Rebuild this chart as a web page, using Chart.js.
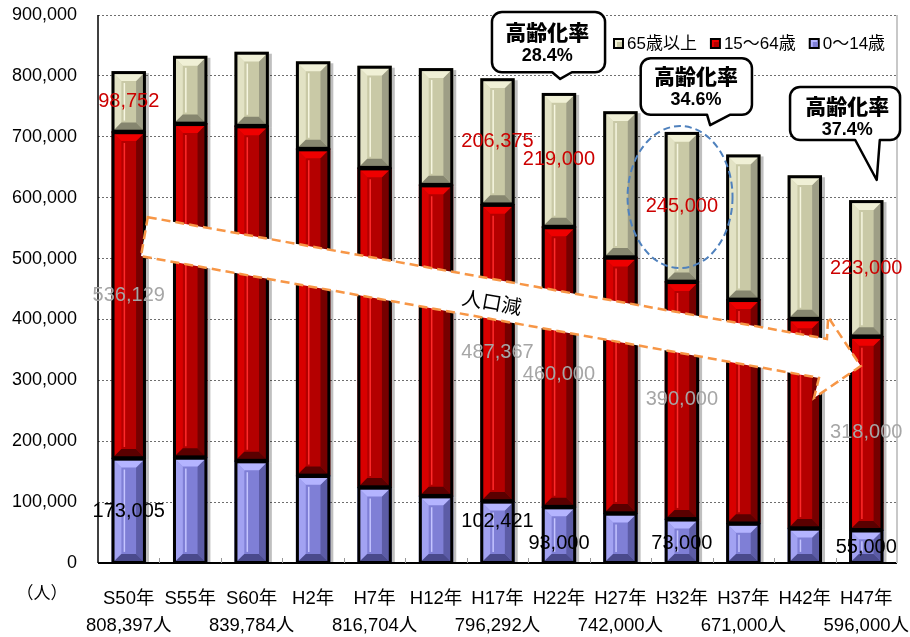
<!DOCTYPE html>
<html lang="ja">
<head>
  <meta charset="UTF-8" />
  <title>人口の推移</title>
  <script src="https://cdn.jsdelivr.net/npm/chart.js"></script>
  <style>
    body { margin: 0; background: #ffffff; }
    #wrap { width: 910px; height: 637px; }
  </style>
</head>
<body>
  <div id="wrap"><canvas id="popChart" width="910" height="637"></canvas></div>

  <script>
    const FONT = '"Liberation Sans", "Noto Sans CJK JP", sans-serif';
    const JP = '"Noto Sans CJK JP", "Liberation Sans", sans-serif';

    // --- data ---
    const categories = ['S50年', 'S55年', 'S60年', 'H2年', 'H7年', 'H12年', 'H17年',
                        'H22年', 'H27年', 'H32年', 'H37年', 'H42年', 'H47年'];
    const totalPop = [808397, null, 839784, null, 816704, null, 796292,
                      null, 742000, null, 671000, null, 596000];
    const age0to14 = [173005, 174500, 168600, 144500, 125300, 111000, 102421,
                      93000, 82600, 73000, 66000, 58000, 55000];
    const age15to64 = [536129, 548000, 550100, 536500, 524400, 510800, 487367,
                       460000, 420400, 390000, 367500, 343800, 318000];
    const age65plus = [98752, 110500, 121000, 143000, 167000, 191000, 206375,
                       219000, 239000, 245000, 237500, 235000, 223000];
    const seriesNames = ['0～14歳', '15～64歳', '65歳以上'];
    const yTicks = [0, 100000, 200000, 300000, 400000, 500000, 600000, 700000, 800000, 900000];

    // categories that carry value labels, and the aging rate callouts
    const labelCats = [0, 6, 7, 9, 12];
    const agingRates = ['28.4%', '34.6%', '37.4%'];

    // --- colours for the bevelled bars ---
    const shades = [
      { base: '#7f7fd6', light: '#a2a2f2', top: '#b4b4ff', dark: '#5c5ca6', bottom: '#4a4a8c', line: '#c4c4ff' },
      { base: '#b40000', light: '#d80000', top: '#ee0000', dark: '#760000', bottom: '#5a0000', line: '#ff2a2a' },
      { base: '#c9c9a6', light: '#e2e2c4', top: '#f0f0d6', dark: '#9e9e86', bottom: '#86866f', line: '#f6f6e0' }
    ];

    function poly(ctx, pts, color) {
      ctx.beginPath();
      ctx.moveTo(pts[0][0], pts[0][1]);
      for (let i = 1; i < pts.length; i++) ctx.lineTo(pts[i][0], pts[i][1]);
      ctx.closePath();
      ctx.fillStyle = color;
      ctx.fill();
    }

    const bevelBars = {
      id: 'bevelBars',
      beforeDatasetsDraw(chart) {
        const ctx = chart.ctx;
        const a = chart.chartArea;
        ctx.save();
        ctx.beginPath();
        ctx.rect(a.left, a.top - 20, a.right - a.left + 10, a.bottom - a.top + 20);
        ctx.clip();
        ctx.fillStyle = 'rgba(0,0,0,0.25)';
        chart.data.datasets.forEach((ds, di) => {
          chart.getDatasetMeta(di).data.forEach(bar => {
            const p = bar.getProps(['x', 'y', 'base', 'width'], true);
            ctx.fillRect(p.x - p.width / 2 + 3, Math.min(p.y, p.base) + 2, p.width, Math.abs(p.base - p.y));
          });
        });
        ctx.restore();
      },
      afterDatasetsDraw(chart) {
        const ctx = chart.ctx;
        ctx.save();
        chart.data.datasets.forEach((ds, di) => {
          const sh = shades[di];
          chart.getDatasetMeta(di).data.forEach(bar => {
            const p = bar.getProps(['x', 'y', 'base', 'width'], true);
            const bw = 2.5;
            const l = p.x - p.width / 2 + bw, r = p.x + p.width / 2 - bw;
            const t = Math.min(p.y, p.base) + bw, b = Math.max(p.y, p.base) - bw / 2;
            if (b <= t) return;
            const e = Math.min((r - l) * 0.25, (b - t) / 2);
            poly(ctx, [[l, t], [l + e, t + e], [l + e, b - e], [l, b]], sh.light);
            poly(ctx, [[r, t], [r, b], [r - e, b - e], [r - e, t + e]], sh.dark);
            poly(ctx, [[l, t], [r, t], [r - e, t + e], [l + e, t + e]], sh.top);
            poly(ctx, [[l, b], [r, b], [r - e, b - e], [l + e, b - e]], sh.bottom);
            // thin highlight down the face
            ctx.strokeStyle = sh.line;
            ctx.lineWidth = 1.5;
            ctx.beginPath();
            ctx.moveTo(l + e + 3, t + e + 2);
            ctx.lineTo(l + e + 3, b - e - 2);
            ctx.stroke();
            // black outline
            ctx.strokeStyle = '#000';
            ctx.lineWidth = 3;
            ctx.strokeRect(p.x - p.width / 2 + 1.5, Math.min(p.y, p.base) + 1.5,
                           p.width - 3, Math.abs(p.base - p.y) - 1.5);
          });
        });
        ctx.restore();
      }
    };

    // --- annotations placed in data units (category index, value) ---
    const labelLevels = [
      { series: age65plus, color: '#cc0000', levels: [758700, 693000, 663500, 584700, 484500] },
      { series: age15to64, color: '#a6a6a6', levels: [440000, 346500, 310400, 269300, 215000] },
      { series: age0to14, color: '#000000', levels: [85400, 69000, 32800, 32800, 26300] }
    ];
    const callouts = [
      { box: [5.91, 7.75, 905000, 806000], tail: [6.89, 7.21, 7.02, 795000], text: [6.81, 872000, 833000] },
      { box: [8.33, 10.14, 829000, 736000], tail: [9.41, 9.78, 9.46, 719000], text: [9.23, 800000, 760000] },
      { box: [10.76, 12.55, 781700, 694700], tail: [11.82, 12.22, 12.17, 629000], text: [11.69, 750500, 711000] }
    ];
    const arrowPts = [[0.31, 568000], [11.36, 368000], [11.38, 404000], [11.91, 323500],
                      [11.15, 271000], [11.23, 304000], [0.20, 504000]];
    const ellipseDef = { c: 8.97, v: 601000, rc: 0.854, rv: 116600 };

    const annotations = {
      id: 'annotations',
      afterDraw(chart) {
        const ctx = chart.ctx;
        const xs = chart.scales.x, ys = chart.scales.y;
        const X = c => xs.getPixelForValue(c);
        const Y = v => ys.getPixelForValue(v);
        const a = chart.chartArea;
        ctx.save();

        // axes
        ctx.strokeStyle = '#000';
        ctx.lineWidth = 1.5;
        ctx.beginPath();
        ctx.moveTo(a.left, a.top);
        ctx.lineTo(a.left, a.bottom);
        ctx.stroke();
        ctx.lineWidth = 2;
        ctx.beginPath();
        ctx.moveTo(a.left, a.bottom);
        ctx.lineTo(a.right, a.bottom);
        ctx.stroke();
        ctx.strokeStyle = '#c8c8c8';
        ctx.lineWidth = 2;
        ctx.beginPath();
        ctx.moveTo(a.right, a.top);
        ctx.lineTo(a.right, a.bottom);
        ctx.stroke();
        // small inner tick marks between categories
        ctx.strokeStyle = '#999';
        ctx.lineWidth = 1;
        for (let i = 0; i < categories.length - 1; i++) {
          const x = Math.round(X(i + 0.5)) + 0.5;
          ctx.beginPath();
          ctx.moveTo(x, a.bottom - 5);
          ctx.lineTo(x, a.bottom);
          ctx.stroke();
        }

        // unit label
        ctx.fillStyle = '#000';
        ctx.font = '17px ' + JP;
        ctx.textAlign = 'center';
        ctx.textBaseline = 'middle';
        ctx.fillText('（人）', 42, 593);

        // big arrow
        ctx.beginPath();
        arrowPts.forEach((pt, i) => {
          const px = X(pt[0]), py = Y(pt[1]);
          if (i === 0) ctx.moveTo(px, py); else ctx.lineTo(px, py);
        });
        ctx.closePath();
        ctx.fillStyle = '#ffffff';
        ctx.fill();
        ctx.setLineDash([9, 5]);
        ctx.strokeStyle = '#f79646';
        ctx.lineWidth = 2.5;
        ctx.stroke();
        ctx.setLineDash([]);
        const ang = Math.atan2(Y(arrowPts[1][1]) - Y(arrowPts[0][1]), X(arrowPts[1][0]) - X(arrowPts[0][0]));
        ctx.save();
        ctx.translate(X(5.91), Y(428600));
        ctx.rotate(ang);
        ctx.font = '20px ' + JP;
        ctx.fillStyle = '#000';
        ctx.fillText('人口減', 0, 0);
        ctx.restore();

        // value labels
        ctx.font = '20px ' + FONT;
        labelLevels.forEach(grp => {
          ctx.fillStyle = grp.color;
          labelCats.forEach((c, i) => {
            ctx.fillText(grp.series[c].toLocaleString('en-US'), X(c), Y(grp.levels[i]));
          });
        });

        // dashed ellipse
        ctx.beginPath();
        ctx.ellipse(X(ellipseDef.c), Y(ellipseDef.v),
                    X(ellipseDef.c + ellipseDef.rc) - X(ellipseDef.c),
                    Y(ellipseDef.v - ellipseDef.rv) - Y(ellipseDef.v), 0, 0, Math.PI * 2);
        ctx.setLineDash([7, 4]);
        ctx.strokeStyle = '#4f81bd';
        ctx.lineWidth = 2;
        ctx.stroke();
        ctx.setLineDash([]);

        // callouts
        callouts.forEach((co, i) => {
          const L = X(co.box[0]), R = X(co.box[1]), T = Y(co.box[2]), B = Y(co.box[3]);
          const rad = 10;
          ctx.beginPath();
          ctx.moveTo(L + rad, T);
          ctx.lineTo(R - rad, T);
          ctx.arcTo(R, T, R, T + rad, rad);
          ctx.lineTo(R, B - rad);
          ctx.arcTo(R, B, R - rad, B, rad);
          ctx.lineTo(X(co.tail[1]), B);
          ctx.lineTo(X(co.tail[2]), Y(co.tail[3]));
          ctx.lineTo(X(co.tail[0]), B);
          ctx.lineTo(L + rad, B);
          ctx.arcTo(L, B, L, B - rad, rad);
          ctx.lineTo(L, T + rad);
          ctx.arcTo(L, T, L + rad, T, rad);
          ctx.closePath();
          ctx.fillStyle = '#fff';
          ctx.fill();
          ctx.strokeStyle = '#000';
          ctx.lineWidth = 2.5;
          ctx.lineJoin = 'round';
          ctx.stroke();
          ctx.fillStyle = '#000';
          ctx.font = '900 21px ' + JP;
          ctx.fillText('高齢化率', X(co.text[0]), Y(co.text[1]));
          ctx.font = 'bold 18px ' + FONT;
          ctx.fillText(agingRates[i], X(co.text[0]), Y(co.text[2]));
        });

        // legend (65+ first, like the original)
        let lx = 613;
        const ly = 43;
        ctx.font = '17px ' + FONT;
        ctx.textAlign = 'left';
        [2, 1, 0].forEach(di => {
          ctx.fillStyle = '#000';
          ctx.fillRect(lx, ly - 5, 11, 11);
          ctx.fillStyle = shades[di].top;
          ctx.fillRect(lx + 2, ly - 3, 7, 7);
          ctx.fillStyle = shades[di].base;
          ctx.fillRect(lx + 4, ly - 1, 5, 5);
          ctx.fillStyle = '#000';
          ctx.fillText(seriesNames[di], lx + 14, ly + 1);
          lx += 14 + ctx.measureText(seriesNames[di]).width + 13;
        });

        ctx.restore();
      }
    };

    const ctx = document.getElementById('popChart').getContext('2d');
    new Chart(ctx, {
      type: 'bar',
      data: {
        labels: categories.map((c, i) => [c, totalPop[i] ? totalPop[i].toLocaleString('en-US') + '人' : '']),
        datasets: [age0to14, age15to64, age65plus].map((vals, i) => ({
          label: seriesNames[i],
          data: vals,
          backgroundColor: shades[i].base,
          borderWidth: 0,
          barPercentage: 0.56,
          categoryPercentage: 1
        }))
      },
      options: {
        responsive: false,
        animation: false,
        events: [],
        layout: { padding: { top: 15, right: 13, left: 0, bottom: 0 } },
        plugins: {
          legend: { display: false },
          tooltip: { enabled: false }
        },
        scales: {
          x: {
            stacked: true,
            grid: { display: false, drawTicks: false },
            border: { display: false },
            ticks: {
              color: '#000',
              font: { family: FONT, size: 18.5, lineHeight: 1.46 },
              padding: 22,
              maxRotation: 0,
              autoSkip: false
            },
            afterFit(scale) {
              scale.height = 74;
              scale.paddingLeft = 0;
              scale.paddingRight = 0;
            }
          },
          y: {
            stacked: true,
            min: 0,
            max: 900000,
            afterBuildTicks(scale) {
              scale.ticks = yTicks.map(v => ({ value: v }));
            },
            grid: { color: '#6e6e6e', lineWidth: 1, drawTicks: false },
            border: { display: false, dash: [2, 2] },
            ticks: {
              color: '#000',
              font: { family: FONT, size: 18 },
              padding: 21,
              callback: v => v.toLocaleString('en-US')
            },
            afterFit(scale) {
              scale.width = 98;
              scale.paddingTop = 0;
              scale.paddingBottom = 0;
            }
          }
        }
      },
      plugins: [bevelBars, annotations]
    });
  </script>
</body>
</html>
